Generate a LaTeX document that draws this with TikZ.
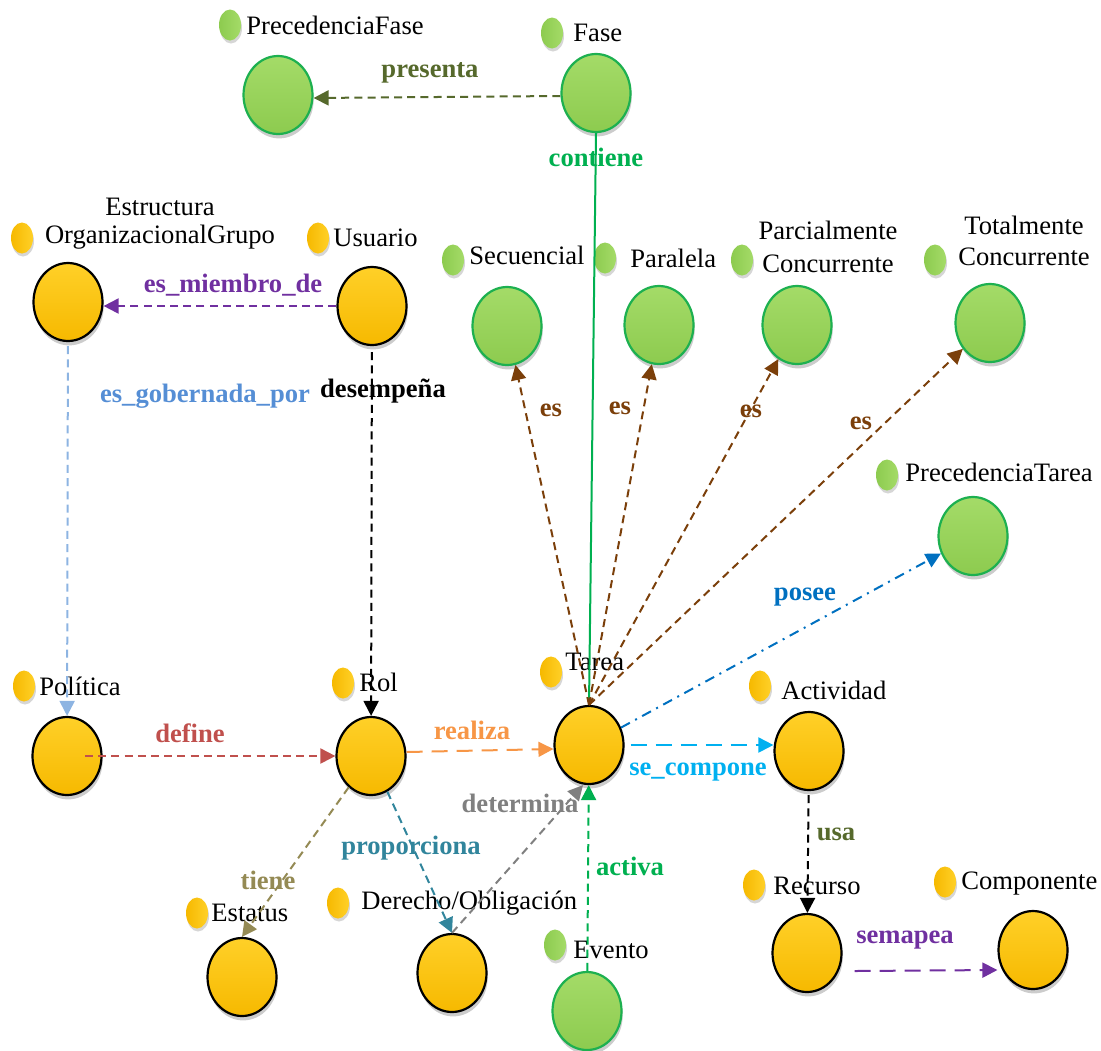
\documentclass[tikz,border=0pt]{standalone}
\usepackage{fontspec}
\setmainfont{Liberation Serif}
\usetikzlibrary{shapes.geometric,arrows.meta,shadows,calc}

\definecolor{ytop}{HTML}{FFD028}
\definecolor{ybot}{HTML}{F6B900}
\definecolor{gtop}{HTML}{A4DB68}
\definecolor{gbot}{HTML}{8DCB4F}
\definecolor{gedge}{HTML}{1DB050}
\definecolor{cOlive}{HTML}{56692C}
\definecolor{cGreen}{HTML}{00B050}
\definecolor{cPurple}{HTML}{7030A0}
\definecolor{cSky}{HTML}{8DB4E2}
\definecolor{cSkyText}{HTML}{558ED5}
\definecolor{cRed}{HTML}{C0504D}
\definecolor{cOrange}{HTML}{F79646}
\definecolor{cCyan}{HTML}{00B0F0}
\definecolor{cKhaki}{HTML}{948A54}
\definecolor{cTeal}{HTML}{31859C}
\definecolor{cGray}{HTML}{808080}
\definecolor{cBrown}{HTML}{7B3F0A}
\definecolor{cBlue}{HTML}{0070C0}

\begin{document}
\begin{tikzpicture}[x=0.5pt,y=-0.5pt,
  font=\fontsize{13.3}{16}\selectfont,
  ball/.style={ellipse, minimum width=34.5pt, minimum height=39pt, inner sep=0pt,
    line width=1.1pt,
    drop shadow={shadow xshift=0.6pt, shadow yshift=-2.2pt, opacity=0.2, fill=black}},
  ybig/.style={ball, draw=black, top color=ytop, bottom color=ybot},
  gbig/.style={ball, draw=gedge, top color=gtop, bottom color=gbot},
  dot/.style={ellipse, minimum width=11pt, minimum height=15.5pt, inner sep=0pt,
    drop shadow={shadow xshift=0.5pt, shadow yshift=-1.5pt, opacity=0.16, fill=black}},
  ydot/.style={dot, left color=ybot, right color=ytop},
  gdot/.style={dot, left color=gbot, right color=gtop},
  ntext/.style={anchor=west, inner sep=0pt},
  rel/.style={font=\fontsize{13.3}{15}\selectfont\bfseries, inner sep=0pt},
  link/.style={line width=1pt, dash pattern=on 4pt off 2.6pt,
    -{Triangle[length=7.5pt,width=7.5pt]}},
  longlink/.style={link, dash pattern=on 8pt off 4.5pt},
  dotlink/.style={link, dash pattern=on 5pt off 3pt on 1pt off 3pt},
]
\useasboundingbox (0,0) rectangle (1101,1050);

% ---------- phase nodes (green) ----------
\node[gbig] (pfase) at (278,95) {};
\node[gdot] (pfaseI) at (230,25) {};
\node[ntext] (pfaseT) at (246,25) {PrecedenciaFase};

\node[gbig] (fase) at (596,93) {};
\node[gdot] (faseI) at (552,33) {};
\node[ntext] (faseT) at (573,33) {Fase};

\node[gbig] (sec) at (507,326) {};
\node[gdot] (secI) at (453,260) {};
\node[ntext] (secT) at (469,255) {Secuencial};

\node[gbig] (par) at (659,325) {};
\node[gdot] (parI) at (605,258) {};
\node[ntext] (parT) at (630,258) {Paralela};

\node[gbig] (pcon) at (797,325) {};
\node[gdot] (pconI) at (742,260) {};
\node[align=center, inner sep=0pt, font=\fontsize{13.3}{16.5}\selectfont] (pconT) at (828,247) {Parcialmente\\Concurrente};

\node[gbig] (tcon) at (990,323) {};
\node[gdot] (tconI) at (935,260) {};
\node[align=center, inner sep=0pt, font=\fontsize{13.3}{15.5}\selectfont] (tconT) at (1024,241) {Totalmente\\Concurrente};

\node[gbig] (ptar) at (973,536) {};
\node[gdot] (ptarI) at (887,475) {};
\node[ntext] (ptarT) at (905,472) {PrecedenciaTarea};

\node[gbig] (eve) at (587,1011) {};
\node[gdot] (eveI) at (555,945) {};
\node[ntext] (eveT) at (573,950) {Evento};

% ---------- organisational nodes (yellow) ----------
\node[ybig] (est) at (68,302) {};
\node[ydot] (estI) at (22,238) {};
\node[align=center, inner sep=0pt, font=\fontsize{13.3}{14}\selectfont] (estT) at (160,224) {Estructura\\OrganizacionalGrupo};

\node[ybig] (usu) at (372,306) {};
\node[ydot] (usuI) at (318,238) {};
\node[ntext] (usuT) at (333,238) {Usuario};

\node[ybig] (pol) at (67,756) {};
\node[ydot] (polI) at (24,686) {};
\node[ntext] (polT) at (39,686) {Política};

\node[ybig] (rol) at (371,756) {};
\node[ydot] (rolI) at (343,683) {};
\node[ntext] (rolT) at (359,682) {Rol};

\node[ybig] (tar) at (589,745) {};
\node[ydot] (tarI) at (551,672) {};
\node[ntext] (tarT) at (565,662) {Tarea};

\node[ybig] (act) at (809,751) {};
\node[ydot] (actI) at (760,686) {};
\node[ntext] (actT) at (781,690) {Actividad};

\node[ybig] (sta) at (242,977) {};
\node[ydot] (staI) at (197,913) {};
\node[ntext] (staT) at (211,913) {Estatus};

\node[ybig] (der) at (452,973) {};
\node[ydot] (derI) at (338,903) {};
\node[ntext] (derT) at (361,903) {Derecho/Obligación};

\node[ybig] (rec) at (807,953) {};
\node[ydot] (recI) at (754,885) {};
\node[ntext] (recT) at (773,886) {Recurso};

\node[ybig] (com) at (1033,950) {};
\node[ydot] (comI) at (945,882) {};
\node[ntext] (comT) at (961,884) {Componente};

% ---------- relations ----------
\draw[link, cOlive] ([yshift=-1.5pt]fase.west) -- ([yshift=-1.5pt]pfase.east);
\node[rel, text=cOlive] (lPresenta) at (430,73) {presenta};

\draw[line width=1pt, cGreen] (fase.south) -- (tar.north);
\node[rel, text=cGreen] (lContiene) at (596,157) {contiene};

\draw[link, cPurple] (usu.west) -- (usu.west -| est.east);
\node[rel, text=cPurple] (lMiembro) at (233,285) {es\_miembro\_de};

\draw[link, cSky, shorten <=2pt] (est) -- (pol);
\node[rel, text=cSkyText] (lGobernada) at (205,396) {es\_gobernada\_por};

\draw[link, black, shorten <=3pt] (usu) -- (rol);
\node[rel, text=black] (lDesempena) at (383,391) {desempeña};

\draw[link, cRed] ([xshift=9pt]pol.center) -- (rol);
\node[rel, text=cRed] (lDefine) at (190,733) {define};

\draw[longlink, cOrange] ([yshift=2pt]rol.east) -- ([yshift=-2pt]tar.west);
\node[rel, text=cOrange] (lRealiza) at (472,730) {realiza};

\draw[longlink, cCyan] ([xshift=3pt]tar.east) -- (tar.east -| act.west);
\node[rel, text=cCyan] (lCompone) at (698,772) {se\_compone};

\draw[link, black, shorten <=2pt] (act) -- (rec);
\node[rel, text=cOlive] (lUsa) at (836,834) {usa};

\draw[longlink, cPurple] ([xshift=6pt,yshift=-9pt]rec.east) -- ([yshift=-10pt]com.west);
\node[rel, text=cPurple] (lSemapea) at (905,940) {semapea};

\draw[link, cKhaki] (rol) -- (sta.north);
\node[rel, text=cKhaki] (lTiene) at (268,880) {tiene};

\draw[link, cTeal] (rol) -- (der.north);
\node[rel, text=cTeal] (lProporciona) at (411,848) {proporciona};

\draw[link, cGray] (der.north) -- ([xshift=-3pt]tar.south);
\node[rel, text=cGray] (lDetermina) at (520,803) {determina};

\draw[link, cGreen] (eve) -- (tar);
\node[rel, text=cGreen] (lActiva) at (630,866) {activa};

\draw[link, cBrown] (tar.north) -- (sec);
\draw[link, cBrown] (tar.north) -- (par);
\draw[link, cBrown] (tar.north) -- (pcon);
\draw[link, cBrown] (tar.north) -- (tcon);
\node[rel, text=cBrown] (lEs1) at (551,410) {es};
\node[rel, text=cBrown] (lEs2) at (620,408) {es};
\node[rel, text=cBrown] (lEs3) at (751,411) {es};
\node[rel, text=cBrown] (lEs4) at (861,423) {es};

\draw[dotlink, cBlue] (tar) -- (ptar);
\node[rel, text=cBlue] (lPosee) at (805,597) {posee};
\end{tikzpicture}
\end{document}
